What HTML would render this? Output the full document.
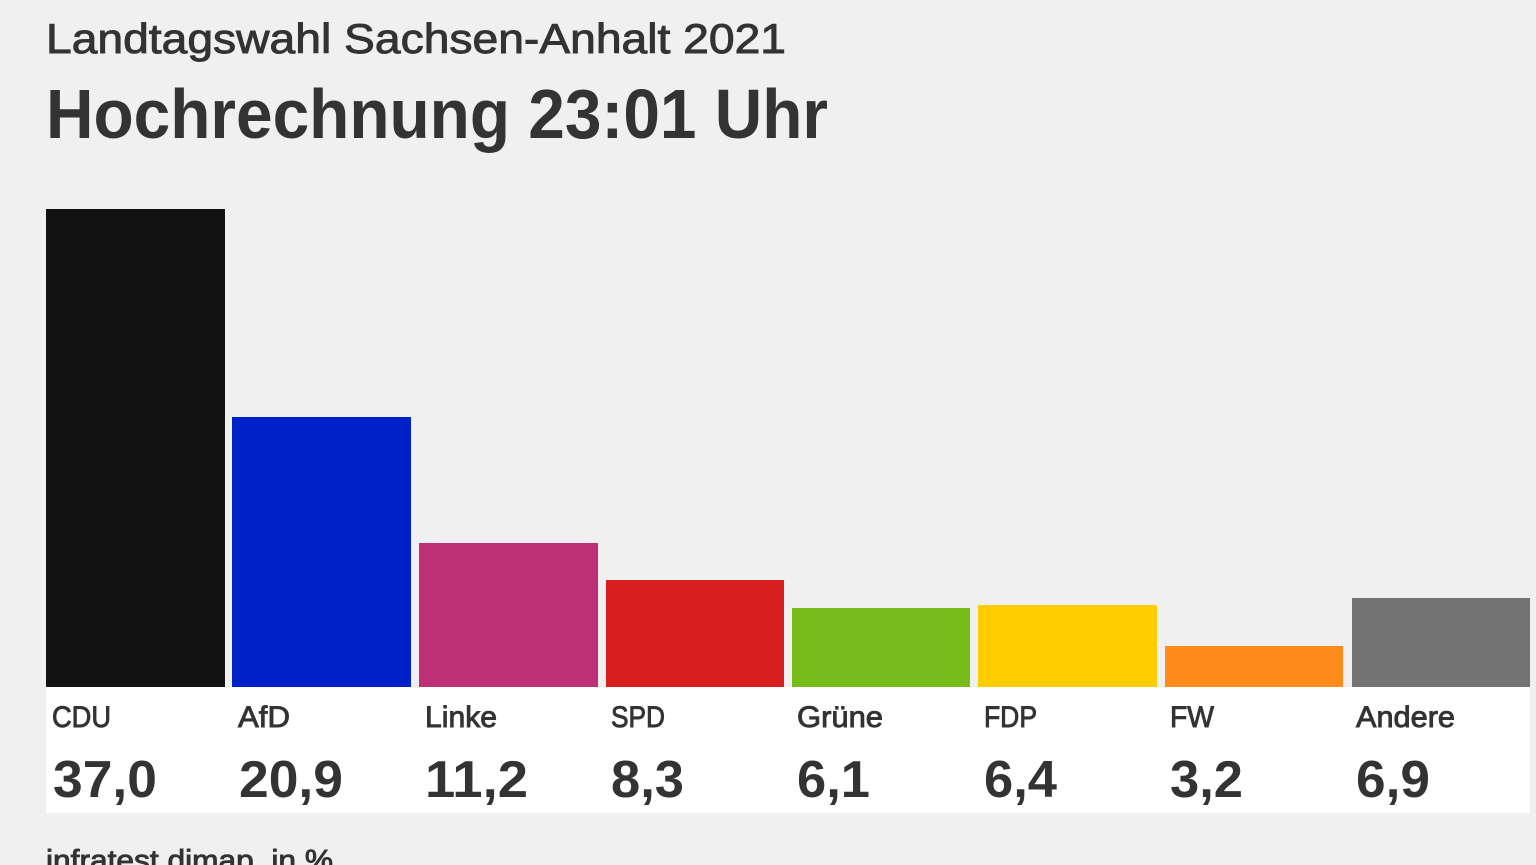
<!DOCTYPE html>
<html><head><meta charset="utf-8"><style>
html,body{margin:0;padding:0;background:#f0f0f0;overflow:hidden}
svg{display:block}
text{font-family:"Liberation Sans",sans-serif;fill:#333}
.m{stroke:#333;stroke-width:0.9}
</style></head><body>
<svg width="1536" height="865" viewBox="0 0 1536 865">
<rect width="1536" height="865" fill="#f0f0f0"/>
<text class="m" x="46" y="53" font-size="42" textLength="740" lengthAdjust="spacingAndGlyphs">Landtagswahl Sachsen-Anhalt 2021</text>
<text x="46" y="138" font-size="70" font-weight="bold" textLength="782" lengthAdjust="spacingAndGlyphs">Hochrechnung 23:01 Uhr</text>
<rect x="46" y="687" width="1484" height="126" fill="#fff"/>
<rect x="46" y="209" width="179" height="478" fill="#111"/>
<rect x="232" y="417" width="179" height="270" fill="#0021c8"/>
<rect x="419" y="543" width="179" height="144" fill="#bd3075"/>
<rect x="606" y="580" width="178" height="107" fill="#d71f1d"/>
<rect x="792" y="608" width="178" height="79" fill="#78bc1b"/>
<rect x="978" y="605" width="179" height="82" fill="#ffcc00"/>
<rect x="1165" y="646" width="178" height="41" fill="#ff8c1a"/>
<rect x="1352" y="598" width="178" height="89" fill="#737373"/>
<g font-size="30" class="m">
<text x="52" y="727" textLength="59" lengthAdjust="spacingAndGlyphs">CDU</text>
<text x="238" y="727" textLength="52" lengthAdjust="spacingAndGlyphs">AfD</text>
<text x="425" y="727" textLength="72" lengthAdjust="spacingAndGlyphs">Linke</text>
<text x="611" y="727" textLength="54" lengthAdjust="spacingAndGlyphs">SPD</text>
<text x="797" y="727" textLength="86" lengthAdjust="spacingAndGlyphs">Grüne</text>
<text x="984" y="727" textLength="53" lengthAdjust="spacingAndGlyphs">FDP</text>
<text x="1170" y="727" textLength="44" lengthAdjust="spacingAndGlyphs">FW</text>
<text x="1356" y="727" textLength="99" lengthAdjust="spacingAndGlyphs">Andere</text>
</g>
<g font-size="52" font-weight="bold">
<text x="53" y="797" textLength="104" lengthAdjust="spacingAndGlyphs">37,0</text>
<text x="239" y="797" textLength="104" lengthAdjust="spacingAndGlyphs">20,9</text>
<text x="425" y="797" textLength="103" lengthAdjust="spacingAndGlyphs">11,2</text>
<text x="611" y="797" textLength="73" lengthAdjust="spacingAndGlyphs">8,3</text>
<text x="797" y="797" textLength="73" lengthAdjust="spacingAndGlyphs">6,1</text>
<text x="984" y="797" textLength="73" lengthAdjust="spacingAndGlyphs">6,4</text>
<text x="1170" y="797" textLength="73" lengthAdjust="spacingAndGlyphs">3,2</text>
<text x="1356" y="797" textLength="74" lengthAdjust="spacingAndGlyphs">6,9</text>
</g>
<text class="m" x="46" y="870" font-size="29" textLength="287" lengthAdjust="spacingAndGlyphs">infratest dimap, in %</text>
</svg>
</body></html>
